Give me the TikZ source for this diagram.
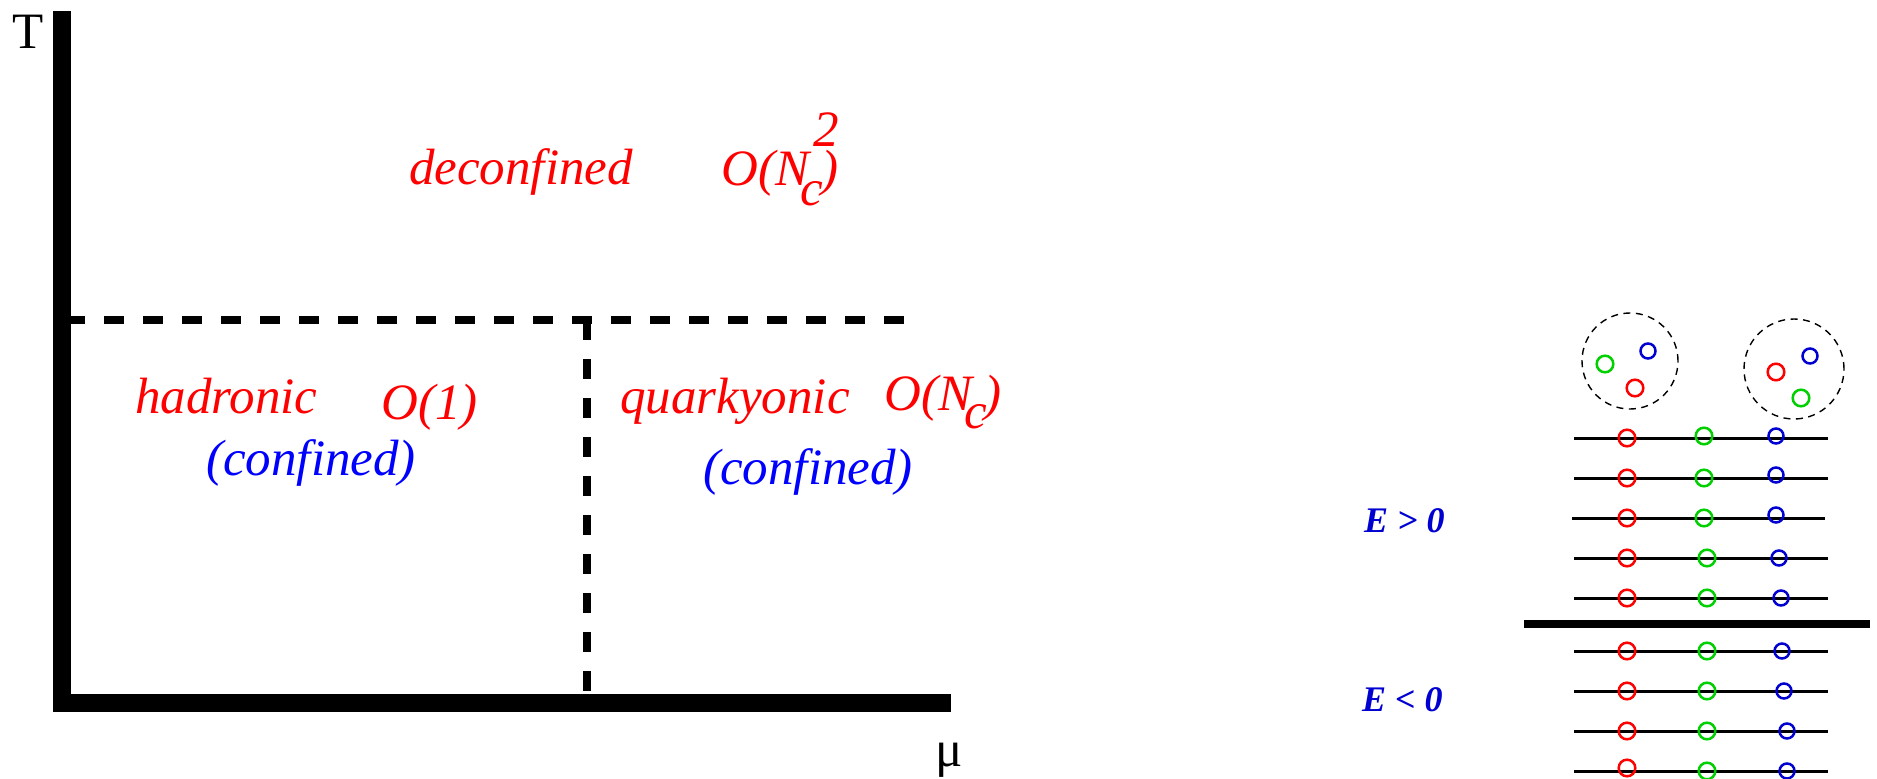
\documentclass[tikz,border=0pt]{standalone}
\usepackage{fontspec}
\setmainfont{Liberation Serif}
\definecolor{xred}{RGB}{255,0,0}
\definecolor{xblue}{RGB}{0,0,255}
\definecolor{xblueb}{RGB}{0,0,208}
\definecolor{xgreen}{RGB}{0,208,0}
\begin{document}
\begin{tikzpicture}[x=1pt,y=-1pt,
  axisline/.style={line width=18pt, line join=miter, line cap=butt},
  phaseline/.style={line width=8pt, dash pattern=on 20pt off 19pt, line cap=butt},
  txt/.style={inner sep=0pt, anchor=base west, font=\fontsize{51}{61}\selectfont},
  itred/.style={txt, text=xred, font=\fontsize{51}{61}\selectfont\itshape},
  itblue/.style={txt, text=xblue, font=\fontsize{51}{61}\selectfont\itshape},
  elab/.style={inner sep=0pt, anchor=base west, text=xblueb, font=\fontsize{36}{43}\selectfont\bfseries\itshape},
  level/.style={line width=3pt, line cap=butt},
  fermi/.style={line width=8pt, line cap=butt},
  qr/.style={draw=xred, line width=2.5pt},
  qg/.style={draw=xgreen, line width=2.5pt},
  qb/.style={draw=xblueb, line width=2.5pt},
  bag/.style={line width=1.4pt, dash pattern=on 7pt off 5.5pt}
]
\useasboundingbox (0,0) rectangle (1877,779);

% axes
\draw[axisline] (62,11) -- (62,703) -- (951,703);
\node[txt] (T) at (12,48) {T};
\node[txt] (mu) at (935,766) {μ};

% phase boundaries
\draw[phaseline] (65,320) -- (904,320);
\draw[phaseline] (587,320) -- (587,692);

% deconfined
\node[itred] (dec) at (409,184) {deconfined};
\node[itred] (decO) at (721,185) {O(N};
\node[itred] (decc) at (800,205) {c};
\node[itred] (decp) at (821,185) {)};
\node[itred] (dec2) at (813,146) {2};

% hadronic
\node[itred] (had) at (135,413) {hadronic};
\node[itred] (hadO) at (381,419) {O(1)};
\node[itblue] (hadc) at (206,475) {(confined)};

% quarkyonic
\node[itred] (qua) at (620,413) {quarkyonic};
\node[itred] (quaO) at (884,410) {O(N};
\node[itred] (quac) at (964,428) {c};
\node[itred] (quap) at (984,410) {)};
\node[itblue] (quacf) at (703,484) {(confined)};

% energy labels
\node[elab] (Epos) at (1364,532) {E > 0};
\node[elab] (Eneg) at (1362,711) {E < 0};

% Fermi sea levels
\draw[fermi] (1524,624) -- (1870,624);
\foreach \y in {438,478,558,598,651,691,731,771}
  \draw[level] (1574,\y) -- (1828,\y);
\draw[level] (1572,518) -- (1825,518);

% red quarks
\foreach \y in {438,478,518,558,598,651,691,731,768}
  \draw[qr] (1627,\y) circle[radius=8.3pt];
% green quarks
\foreach \x/\y in {1704/436,1704/478,1704/518,1707/558,1707/598,1707/651,1707/691,1707/731,1707/771}
  \draw[qg] (\x,\y) circle[radius=8.3pt];
% blue quarks
\foreach \x/\y in {1776/436,1776/475,1776/515,1779/558,1781/598,1782/651,1784/691,1787/731,1787/771}
  \draw[qb] (\x,\y) circle[radius=7.5pt];

% baryons
\draw[bag] (1630,361) circle[radius=48pt];
\draw[qg] (1605,364) circle[radius=8.3pt];
\draw[qb] (1648,351) circle[radius=7.5pt];
\draw[qr] (1635,388) circle[radius=8.3pt];

\draw[bag] (1794,369) circle[radius=50pt];
\draw[qr] (1776,372) circle[radius=8.3pt];
\draw[qb] (1810,356) circle[radius=7.5pt];
\draw[qg] (1801,398) circle[radius=8.3pt];
\end{tikzpicture}
\end{document}
